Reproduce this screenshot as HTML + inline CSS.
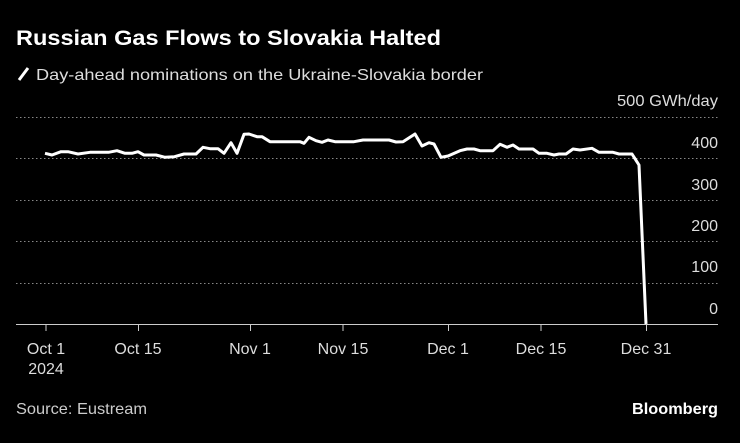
<!DOCTYPE html>
<html><head><meta charset="utf-8"><style>
body{margin:0;background:#000;}
svg{display:block;font-family:"Liberation Sans",sans-serif;}
</style></head><body>
<svg width="740" height="443" viewBox="0 0 740 443">
<rect width="740" height="443" fill="#000"/>
<text x="16" y="45" fill="#fff" font-size="21" font-weight="bold" textLength="425" lengthAdjust="spacingAndGlyphs">Russian Gas Flows to Slovakia Halted</text>
<line x1="19" y1="80" x2="28" y2="68" stroke="#fff" stroke-width="3"/>
<text x="36" y="80" fill="#ddd" font-size="16" textLength="447" lengthAdjust="spacingAndGlyphs">Day-ahead nominations on the Ukraine-Slovakia border</text>
<text x="718" y="106" fill="#ddd" font-size="16" text-anchor="end" textLength="101" lengthAdjust="spacingAndGlyphs">500 GWh/day</text>
<g stroke="#888" stroke-width="1" stroke-dasharray="1.5,2.5">
<line x1="16" y1="117.5" x2="718" y2="117.5"/>
<line x1="16" y1="158.5" x2="718" y2="158.5"/>
<line x1="16" y1="200.5" x2="718" y2="200.5"/>
<line x1="16" y1="241.5" x2="718" y2="241.5"/>
<line x1="16" y1="283.5" x2="718" y2="283.5"/>
</g>
<line x1="16" y1="324.5" x2="718" y2="324.5" stroke="#ccc" stroke-width="1"/>
<g fill="#ddd" font-size="16" text-anchor="end">
<text x="718" y="148">400</text>
<text x="718" y="190">300</text>
<text x="718" y="231">200</text>
<text x="718" y="272">100</text>
<text x="718" y="314">0</text>
</g>
<g stroke="#ccc">
<line x1="46" y1="325" x2="46" y2="331"/><line x1="138.5" y1="325" x2="138.5" y2="331"/>
<line x1="250.5" y1="325" x2="250.5" y2="331"/><line x1="343" y1="325" x2="343" y2="331"/>
<line x1="448.5" y1="325" x2="448.5" y2="331"/><line x1="541" y1="325" x2="541" y2="331"/>
<line x1="646.5" y1="325" x2="646.5" y2="331"/>
</g>
<g fill="#ddd" font-size="16" text-anchor="middle">
<text x="46" y="354">Oct 1</text><text x="46" y="374">2024</text>
<text x="138" y="354">Oct 15</text><text x="250" y="354">Nov 1</text>
<text x="343" y="354">Nov 15</text><text x="448" y="354">Dec 1</text>
<text x="541" y="354">Dec 15</text><text x="646" y="354">Dec 31</text>
</g>
<polyline fill="none" stroke="#fff" stroke-width="3" stroke-linejoin="round" points="45,153.3 52,155 61,151.7 68,151.7 78,154 90,152.3 108.5,152.3 117,150.7 125,153.3 132,153.3 138,151.7 144,155 156,155 165,157.3 174.5,156.7 184,154 196,154 203,147.3 210,148.7 218,148.7 224,153.3 231,142.7 237,153.3 244,134.3 249,134 257,136.7 262,136.7 270,141.7 300,141.7 304,143.3 309,137.3 316,140.7 322,142.3 328,140 335,141.7 354,141.7 363,140 389,140 396,142 403,141.7 415,134 422,146 429,142.7 434,144 441,157.3 448,156 460,150.7 467,149 474,149 480,150.7 493,150.7 500,144.3 507,147.3 513,145 519,149 533,149 539,153.3 547,153.3 554,155 559,154 566,154 573,149 580,150 592,148.3 599,152.3 613,152.3 619,154 632,154 639,165 646,324"/>
<text x="16" y="414" fill="#ccc" font-size="16" textLength="131" lengthAdjust="spacingAndGlyphs">Source: Eustream</text>
<text x="718" y="414" fill="#fff" font-size="16" font-weight="bold" text-anchor="end" textLength="86" lengthAdjust="spacingAndGlyphs">Bloomberg</text>
</svg>
</body></html>
